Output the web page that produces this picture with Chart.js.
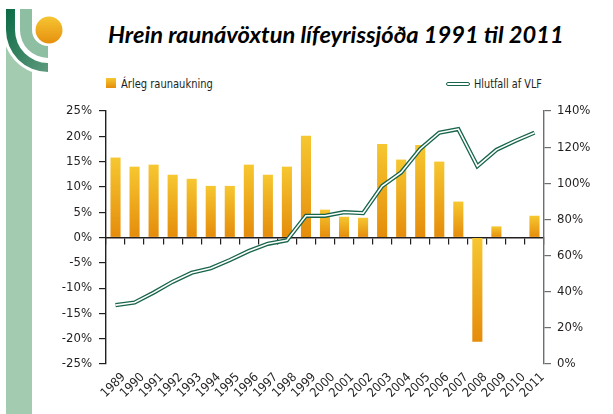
<!DOCTYPE html>
<html lang="is">
<head>
  <meta charset="UTF-8" />
  <title>Hrein raunávöxtun lífeyrissjóða</title>
  <script src="https://cdn.jsdelivr.net/npm/chart.js"></script>
  <style>
    body { margin: 0; width: 613px; height: 414px; background: #fff; position: relative; overflow: hidden;
           font-family: "Liberation Sans Narrow", "DejaVu Sans Condensed", sans-serif; color: #231f20; }
    .logo { position: absolute; left: 0; top: 0; }
    .title { position: absolute; left: 108px; top: 21px; font-family: Lato, sans-serif; font-weight: 700;
             font-style: italic; font-size: 22px; color: #000; white-space: nowrap;
             transform: scaleX(1.075); transform-origin: left top; }
    .leg { position: absolute; font-size: 13px; white-space: nowrap; transform-origin: left top; }
    .sq { position: absolute; left: 106px; top: 78px; width: 10px; height: 10px;
          background: linear-gradient(#f6c730, #e58c0b); }
    .ln { position: absolute; left: 446px; top: 82px; width: 22px; height: 2px; background: #fff;
          border: 1.3px solid #17654a; border-radius: 2px; }
    #wrap { position: absolute; left: 40px; top: 95px; width: 565px; height: 319px; }
  </style>
</head>
<body>
  <svg class="logo" width="613" height="414">
    <defs>
      <linearGradient id="dg" x1="0" y1="0" x2="1" y2="1">
        <stop offset="0" stop-color="#0b6a45" />
        <stop offset="1" stop-color="#5f9a7e" />
      </linearGradient>
      <linearGradient id="og" x1="0" y1="0" x2="0" y2="1">
        <stop offset="0" stop-color="#f6c532" />
        <stop offset="1" stop-color="#e6900e" />
      </linearGradient>
    </defs>
    <rect x="6" y="40" width="26" height="374" fill="#a3cbb0" />
    <circle cx="48" cy="30" r="45" fill="#fff" />
    <path d="M6 9 H15 V30 A33 33 0 0 0 48 63 V72 A42 42 0 0 1 6 30 Z" fill="url(#dg)" />
    <path d="M20 9 H32 V30 A16 16 0 0 0 48 46 V58 A28 28 0 0 1 20 30 Z" fill="#8fbfa3" />
    <circle cx="49" cy="30" r="13.5" fill="url(#og)" />
  </svg>

  <div class="title">Hrein raunávöxtun lífeyrissjóða 1991 til 2011</div>
  <div class="sq"></div>
  <div class="leg" style="left:121px; top:76px; transform: scaleX(0.85);">Árleg raunaukning</div>
  <div class="ln"></div>
  <div class="leg" style="left:474px; top:76px; transform: scaleX(0.83);">Hlutfall af VLF</div>

  <div id="wrap"><canvas id="chart"></canvas></div>

  <script>
    const years = ['1989', '1990', '1991', '1992', '1993', '1994', '1995', '1996', '1997', '1998', '1999', '2000',
                   '2001', '2002', '2003', '2004', '2005', '2006', '2007', '2008', '2009', '2010', '2011'];
    // Árleg raunaukning (%), left axis
    const growth = [15.8, 14.0, 14.4, 12.4, 11.6, 10.2, 10.2, 14.4, 12.4, 14.0, 20.1, 5.5,
                    4.1, 3.9, 18.5, 15.4, 18.3, 15.0, 7.1, -20.6, 2.2, null, 4.3];
    // Hlutfall af VLF (%), right axis
    const gdpShare = [32.6, 34, 39.5, 45.5, 50.5, 53, 57.5, 62.5, 66.5, 68.5, 82, 82,
                      84, 83.5, 98.5, 106, 119, 128, 130, 109.5, 118.5, 123.5, 128];
    const leftTicks = [-25, 25, 5];
    const rightTicks = [0, 140, 20];

    const font = { family: '"Liberation Sans Narrow", "DejaVu Sans Condensed", sans-serif', size: 13 };
    const ink = '#231f20';

    function barFill(ctx) {
      const chart = ctx.chart;
      const y = chart.scales.y;
      if (!y || ctx.type !== 'data' || ctx.raw == null) return '#eea81e';
      const top = y.getPixelForValue(Math.max(ctx.raw, 0));
      const bot = y.getPixelForValue(Math.min(ctx.raw, 0));
      if (!isFinite(top) || !isFinite(bot) || top === bot) return '#eea81e';
      const g = chart.ctx.createLinearGradient(0, top, 0, bot);
      g.addColorStop(0, '#f6c730');
      g.addColorStop(1, '#e58c0b');
      return g;
    }

    new Chart(document.getElementById('chart'), {
      data: {
        labels: years,
        datasets: [
          { type: 'bar', label: 'Árleg raunaukning', data: growth, yAxisID: 'y', order: 3,
            backgroundColor: barFill, barPercentage: 0.53, categoryPercentage: 1 },
          { type: 'line', label: 'Hlutfall af VLF', data: gdpShare, yAxisID: 'y1', order: 2,
            borderColor: '#17654a', borderWidth: 4.2, pointRadius: 0, tension: 0, borderJoinStyle: 'miter' },
          { type: 'line', label: '', data: gdpShare, yAxisID: 'y1', order: 1,
            borderColor: '#ffffff', borderWidth: 1.6, pointRadius: 0, tension: 0, borderJoinStyle: 'miter' }
        ]
      },
      options: {
        responsive: true,
        maintainAspectRatio: false,
        animation: false,
        layout: { padding: { top: 16, left: 0, right: 0, bottom: 0 } },
        plugins: { legend: { display: false }, tooltip: { enabled: false } },
        scales: {
          x: {
            type: 'category', position: 'bottom', offset: true,
            grid: { display: false, drawTicks: false },
            border: { display: false },
            ticks: { font: { family: font.family, size: 12.5 }, color: ink, minRotation: 45, maxRotation: 45,
                     padding: 6, labelOffset: 8, autoSkip: false },
            afterFit: s => { s.height = 50; }
          },
          x2: {
            type: 'category', position: { y: 0 }, offset: true,
            grid: { drawOnChartArea: false, offset: true, tickLength: 6, color: ink, lineWidth: 1.2 },
            border: { display: true, color: ink, width: 1.4 },
            ticks: { display: false }
          },
          y: {
            position: 'left', min: leftTicks[0], max: leftTicks[1],
            grid: { drawOnChartArea: false, tickLength: 7, color: ink, lineWidth: 1.2 },
            border: { color: ink, width: 1.4 },
            ticks: { stepSize: leftTicks[2], font: font, color: ink, padding: 7, callback: v => v + '%' },
            afterFit: s => { s.width = 66; }
          },
          y1: {
            position: 'right', min: rightTicks[0], max: rightTicks[1],
            grid: { drawOnChartArea: false, tickLength: 7, color: '#6d6e70', lineWidth: 1.2 },
            border: { color: '#6d6e70', width: 1.4 },
            ticks: { stepSize: rightTicks[2], font: font, color: ink, padding: 6, callback: v => v + '%' },
            afterFit: s => { s.width = 61; }
          }
        }
      }
    });
  </script>
</body>
</html>
